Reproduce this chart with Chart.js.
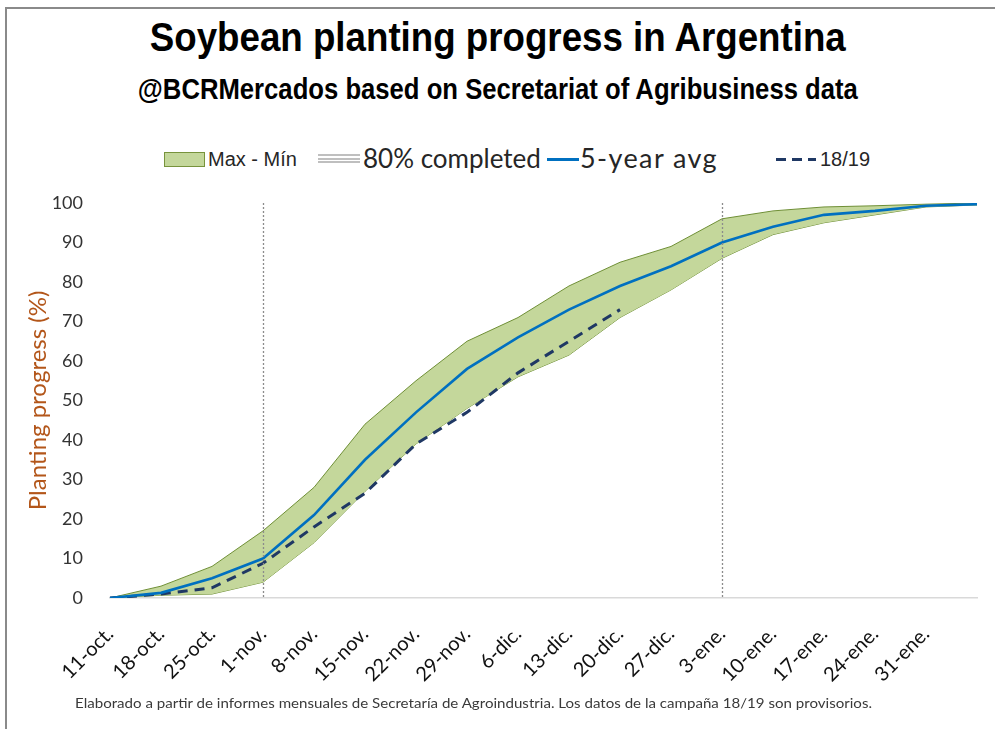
<!DOCTYPE html>
<html>
<head>
<meta charset="utf-8">
<script src="https://cdn.jsdelivr.net/npm/chart.js@4.4.0/dist/chart.umd.min.js"></script>
<style>
  body { margin: 0; width: 995px; height: 729px; background: #fff; overflow: hidden; position: relative; font-family: Lato, "Open Sans", sans-serif; }
  #frame { position: absolute; left: 5px; top: 7px; width: 1000px; height: 740px; border-left: 2px solid #8a8a8a; border-top: 2px solid #8a8a8a; }
  .abs { position: absolute; white-space: nowrap; line-height: 1; }
  .title { left: 0; width: 995px; text-align: center; font-family: "Liberation Sans Narrow", "Liberation Sans", sans-serif; font-weight: bold; color: #000; }
  #title { top: 17px; font-size: 41px; }
  #subtitle { top: 75px; font-size: 29px; }
  .lg { color: #262626; }
  #chartBox { position: absolute; left: 0; top: 0; width: 995px; height: 729px; }
  #footer { left: 75px; top: 696px; font-size: 14px; color: #3a3a3a; }
</style>
</head>
<body>
<div id="frame"></div>
<div id="title" class="abs title"><span>Soybean planting progress in Argentina</span></div>
<div id="subtitle" class="abs title"><span>@BCRMercados based on Secretariat of Agribusiness data</span></div>

<div class="abs" style="left:164px;top:152px;width:39px;height:13px;background:#c4d79b;border:1px solid #77933c;"></div>
<div class="abs lg" style="left:208px;top:149px;font-family:'Liberation Sans Narrow',sans-serif;font-size:20px;">Max - Mín</div>
<div class="abs" style="left:318px;top:154px;width:42px;height:9px;background:repeating-linear-gradient(#bfbfbf 0 2px,#fff 2px 3.5px);"></div>
<div class="abs lg" style="left:363px;top:145px;font-size:26px;">80% completed</div>
<div class="abs" style="left:547px;top:158px;width:32px;height:3px;background:#0070c0;"></div>
<div class="abs lg" style="left:580px;top:144px;font-size:27px;letter-spacing:1.4px;">5-year avg</div>
<div class="abs" style="left:776px;top:158px;width:40px;height:3px;background:repeating-linear-gradient(90deg,#1f3864 0 10px,#fff 10px 16px);"></div>
<div class="abs lg" style="left:820px;top:149px;font-family:'Liberation Sans Narrow',sans-serif;font-size:20px;">18/19</div>

<div id="chartBox"><canvas id="myChart"></canvas></div>
<div id="footer" class="abs"><span>Elaborado a partir de informes mensuales de Secretaría de Agroindustria. Los datos de la campaña 18/19 son provisorios.</span></div>

<script>
// weekly dates (the last one has no label in the original)
const weekLabels = ["11-oct.", "18-oct.", "25-oct.", "1-nov.", "8-nov.", "15-nov.", "22-nov.", "29-nov.", "6-dic.", "13-dic.",
  "20-dic.", "27-dic.", "3-ene.", "10-ene.", "17-ene.", "24-ene.", "31-ene.", "7-feb."];
const maxValues = [0, 3, 8, 17, 28, 44, 55, 65, 71, 79, 85, 89, 96, 98, 99, 99.3, 99.7, 100];
const minValues = [0, 0.7, 1, 4, 14, 27, 39, 48, 56, 61.5, 71, 78, 86, 92, 95, 97, 99, 99.5];
const avgValues = [0, 1.3, 5, 10, 21, 35, 47, 58, 66, 73, 79, 84, 90, 94, 97, 98, 99.3, 99.7];
const campaign1819 = [0, 1, 2.6, 8.8, 18, 26.5, 39, 47, 57, 65, 73];
const yTicks = [0, 10, 20, 30, 40, 50, 60, 70, 80, 90, 100];
const markerWeeks = ["1-nov.", "3-ene."]; // 80% completed

function fitWidth(sel, target) {
  const el = document.querySelector(sel);
  const w = el.getBoundingClientRect().width;
  el.style.display = "inline-block";
  el.style.transformOrigin = "left center";
  el.style.transform = "scaleX(" + (target / w) + ")";
}
fitWidth("#title span", 696);
fitWidth("#subtitle span", 720);
fitWidth("#footer span", 797);
document.querySelectorAll(".title span").forEach((s) => { s.style.transformOrigin = "center center"; });

const markerLines = {
  id: "markerLines",
  afterDatasetsDraw(chart) {
    const ctx = chart.ctx;
    const x = chart.scales.x;
    const area = chart.chartArea;
    ctx.save();
    ctx.strokeStyle = "#8c8c8c";
    ctx.lineWidth = 1.3;
    ctx.setLineDash([2, 2]);
    markerWeeks.forEach((wk) => {
      const px = Math.round(x.getPixelForValue(weekLabels.indexOf(wk))) + 0.5;
      ctx.beginPath();
      ctx.moveTo(px, area.top);
      ctx.lineTo(px, area.bottom);
      ctx.stroke();
    });
    ctx.restore();
  },
};

const data = {
  labels: weekLabels,
  datasets: [
    {
      label: "5-year avg",
      data: avgValues,
      borderColor: "#0070c0",
      borderWidth: 2.6,
      pointRadius: 0,
      fill: false,
      order: 0,
    },
    {
      label: "18/19",
      data: campaign1819,
      borderColor: "#1f3864",
      borderWidth: 3,
      borderDash: [10, 7],
      pointRadius: 0,
      fill: false,
      order: 1,
    },
    {
      label: "Max",
      data: maxValues,
      borderColor: "#6f8f36",
      borderWidth: 1,
      backgroundColor: "#c4d79b",
      pointRadius: 0,
      fill: "+1",
      order: 2,
    },
    {
      label: "Min",
      data: minValues,
      borderColor: "#6f8f36",
      borderWidth: 1,
      pointRadius: 0,
      fill: false,
      order: 3,
    },
  ],
};

const config = {
  type: "line",
  data,
  options: {
    responsive: true,
    maintainAspectRatio: false,
    animation: false,
    layout: { padding: { top: 203, right: 18, bottom: 0, left: 0 } },
    plugins: { legend: { display: false }, tooltip: { enabled: false } },
    scales: {
      x: {
        offset: false,
        grid: { display: false, drawTicks: false },
        border: { color: "#d9d9d9", width: 1.5 },
        ticks: {
          autoSkip: false,
          minRotation: 45,
          maxRotation: 45,
          padding: 24,
          color: "#111",
          font: { family: "Lato", size: 20 },
          callback: function (val, i) {
            return i === weekLabels.length - 1 ? "" : weekLabels[i];
          },
        },
        afterFit: function (scale) {
          scale.height = 131;
          scale.paddingLeft = 0;
          scale.paddingRight = 0;
        },
      },
      y: {
        min: 0,
        max: 100,
        grid: { display: false, drawTicks: false },
        border: { display: false },
        afterBuildTicks: function (scale) { scale.ticks = yTicks.map((v) => ({ value: v })); },
        ticks: { padding: 27, color: "#333", font: { family: "Lato", size: 18 } },
        title: {
          display: true,
          text: "Planting progress (%)",
          color: "#b3561a",
          font: { family: "Lato", size: 24 },
          padding: { top: 24, bottom: 0 },
        },
        afterFit: function (scale) { scale.width = 110; },
      },
    },
  },
  plugins: [markerLines],
};

const myChart = new Chart(document.getElementById("myChart"), config);
</script>
</body>
</html>
